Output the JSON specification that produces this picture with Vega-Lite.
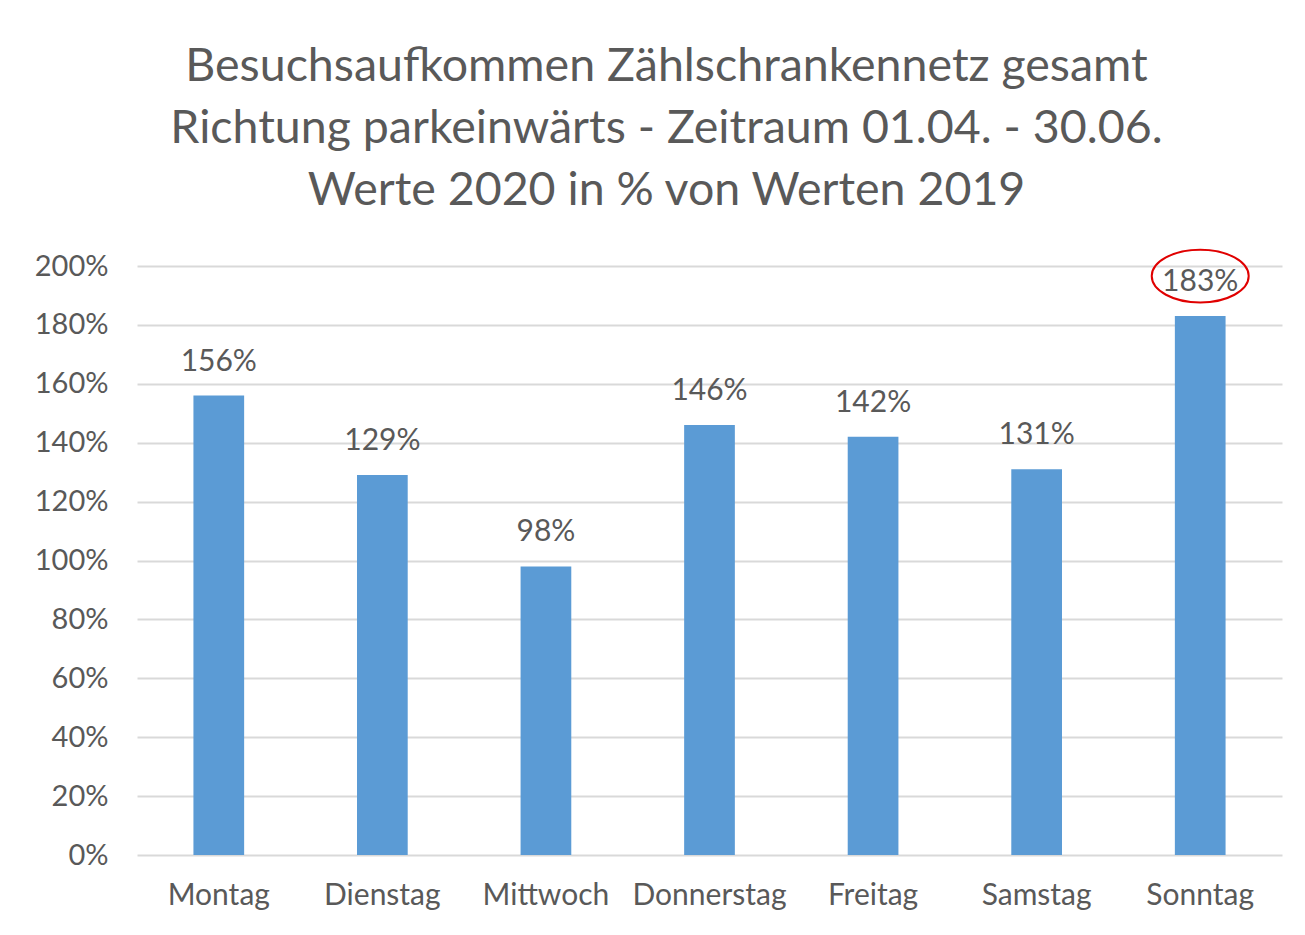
{
  "$schema": "https://vega.github.io/schema/vega-lite/v6.json",
  "autosize": {"type": "none"},
  "width": 1145,
  "height": 589,
  "padding": {"left": 137, "top": 266, "right": 23, "bottom": 80},
  "background": "white",
  "title": {
    "text": ["Besuchsaufkommen  Zählschrankennetz  gesamt", "Richtung parkeinwärts -  Zeitraum 01.04. - 30.06.", "Werte 2020 in % von Werten 2019"],
    "font": "Lato",
    "fontSize": 46.5,
    "fontWeight": "normal",
    "color": "#595959",
    "lineHeight": 62,
    "anchor": "middle",
    "dx": -43,
    "offset": 31
  },
  "config": {
    "view": {"stroke": null},
    "font": "Lato",
    "axis": {"labelFont": "Lato", "labelColor": "#595959", "labelFontSize": 29, "ticks": false, "domain": false, "title": null}
  },
  "data": {
    "values": [
      {"tag": "Montag", "anteil": 1.56},
      {"tag": "Dienstag", "anteil": 1.29},
      {"tag": "Mittwoch", "anteil": 0.98},
      {"tag": "Donnerstag", "anteil": 1.46},
      {"tag": "Freitag", "anteil": 1.42},
      {"tag": "Samstag", "anteil": 1.31},
      {"tag": "Sonntag", "anteil": 1.83}
    ]
  },
  "encoding": {
    "x": {
      "field": "tag", "type": "nominal", "sort": null,
      "scale": {"paddingInner": 0.69, "paddingOuter": 0.345},
      "axis": {"labelAngle": 0, "labelPadding": 25, "grid": false, "labelFontSize": 30}
    },
    "y": {
      "field": "anteil", "type": "quantitative",
      "scale": {"domain": [0, 2], "nice": false},
      "axis": {"values": [0, 0.2, 0.4, 0.6, 0.8, 1.0, 1.2, 1.4, 1.6, 1.8, 2.0], "format": ".0%", "grid": true, "gridColor": "#d9d9d9", "gridWidth": 2, "labelPadding": 29}
    }
  },
  "layer": [
    {"mark": {"type": "bar", "color": "#5b9bd5"}},
    {"mark": {"type": "text", "baseline": "alphabetic", "dy": -25, "fontSize": 30, "color": "#595959", "font": "Lato"},
     "encoding": {"text": {"field": "anteil", "type": "quantitative", "format": ".0%"}}},
    {"transform": [{"filter": "datum.tag == 'Sonntag'"}],
     "mark": {"type": "point", "filled": false, "stroke": "#e00000", "strokeWidth": 2, "opacity": 1, "size": 9400, "yOffset": -40,
       "shape": "M -1 0 C -1 -0.301 -0.552 -0.545 0 -0.545 C 0.552 -0.545 1 -0.301 1 0 C 1 0.301 0.552 0.545 0 0.545 C -0.552 0.545 -1 0.301 -1 0 Z"}}
  ]
}
